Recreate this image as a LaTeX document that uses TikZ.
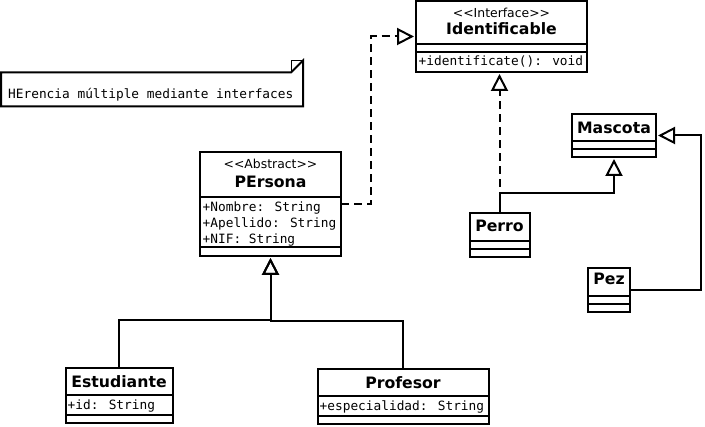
\documentclass[tikz,border=0pt]{standalone}
\usepackage{fontspec}
\setmainfont{DejaVu Sans}
\newfontfamily\monof{DejaVu Sans Mono}
\usetikzlibrary{arrows.meta}
\begin{document}
\begin{tikzpicture}[x=1pt,y=-1pt,
  cls/.style={draw,line width=2pt,inner sep=0pt,outer sep=0pt,anchor=north west},
  sep/.style={line width=2pt},
  cname/.style={font=\fontsize{15.7}{18}\selectfont\bfseries,anchor=base,inner sep=0pt},
  stereo/.style={font=\fontsize{12.4}{14}\selectfont,anchor=base,inner sep=0pt},
  attr/.style={font=\monof\fontsize{12.8}{15}\selectfont,anchor=base west,inner sep=0pt},
  gen/.style={line width=2pt,-{Triangle[open,length=17pt,width=17pt,line width=2pt]},shorten >=2pt},
  real/.style={gen,dash pattern=on 8pt off 5pt},
  notebox/.style={inner sep=0pt,outer sep=0pt,anchor=north west}]
\useasboundingbox (0,0) rectangle (705,427);
\fill[white] (0,0) rectangle (705,427);

% Identificable
\node[cls,minimum width=171pt,minimum height=71pt] (ident) at (416,1) {};
\draw[sep] (ident.west |- 0,44) -- (ident.east |- 0,44);
\draw[sep] (ident.west |- 0,52) -- (ident.east |- 0,52);
\node[stereo] (identst) at (501.5,17.3) {<{}<Interface>{}>};
\node[cname] (identnm) at (501.5,35) {Identificable};
\node[attr] (identm) at (418.5,66) {+identificate(): void};

% Persona
\node[cls,minimum width=141pt,minimum height=104pt] (persona) at (200,152) {};
\draw[sep] (persona.west |- 0,197) -- (persona.east |- 0,197);
\draw[sep] (persona.west |- 0,247) -- (persona.east |- 0,247);
\node[stereo] (persst) at (270.5,168.3) {<{}<Abstract>{}>};
\node[cname] (persnm) at (270.5,187.3) {PErsona};
\node[attr] (pa1) at (202.5,211.7) {+Nombre: String};
\node[attr] (pa2) at (202.5,228) {+Apellido: String};
\node[attr] (pa3) at (202.5,243.5) {+NIF: String};

% Mascota
\node[cls,minimum width=84pt,minimum height=43pt] (mascota) at (572,114) {};
\draw[sep] (mascota.west |- 0,141.5) -- (mascota.east |- 0,141.5);
\draw[sep] (mascota.west |- 0,149) -- (mascota.east |- 0,149);
\node[cname] (mascnm) at (614,133.3) {Mascota};

% Perro
\node[cls,minimum width=60pt,minimum height=44pt] (perro) at (469.5,213) {};
\draw[sep] (perro.west |- 0,241.5) -- (perro.east |- 0,241.5);
\draw[sep] (perro.west |- 0,249) -- (perro.east |- 0,249);
\node[cname] (perronm) at (499.5,231.7) {Perro};

% Pez
\node[cls,minimum width=42pt,minimum height=44pt] (pez) at (588,268) {};
\draw[sep] (pez.west |- 0,296.5) -- (pez.east |- 0,296.5);
\draw[sep] (pez.west |- 0,304) -- (pez.east |- 0,304);
\node[cname] (peznm) at (609,285) {Pez};

% Estudiante
\node[cls,minimum width=107pt,minimum height=55pt] (est) at (65.5,368.5) {};
\draw[sep] (est.west |- 0,395.5) -- (est.east |- 0,395.5);
\draw[sep] (est.west |- 0,415.5) -- (est.east |- 0,415.5);
\node[cname] (estnm) at (119,387.3) {Estudiante};
\node[attr] (esta) at (67.5,410) {+id: String};

% Profesor
\node[cls,minimum width=171pt,minimum height=55pt] (prof) at (317.5,369) {};
\draw[sep] (prof.west |- 0,396.5) -- (prof.east |- 0,396.5);
\draw[sep] (prof.west |- 0,416) -- (prof.east |- 0,416);
\node[cname] (profnm) at (403,388.3) {Profesor};
\node[attr] (profa) at (319.5,410.7) {+especialidad: String};

% Note
\node[notebox,minimum width=302pt,minimum height=34pt] (note) at (1,72.5) {};
\draw[line width=2pt,line join=miter] (note.north west) -- ([xshift=-12pt]note.north east) -- ([yshift=12pt]note.north east) -- (note.south east) -- (note.south west) -- cycle;
\draw[line width=1pt] ([xshift=-12pt]note.north east) -- ([xshift=-12pt,yshift=12pt]note.north east) -- ([yshift=12pt]note.north east);
\node[attr] (notetxt) at (8,98.3) {HErencia múltiple mediante interfaces};

% Connectors
\draw[real] (persona.east) -- ++(30,0) |- (ident.west);
\draw[real] (perro.north) -- (perro.north |- ident.south);
\draw[gen] (perro.north) -- ++(0,-20) -| (mascota.south);
\draw[gen] (pez.east) -- ++(71,0) |- (mascota.east);
\draw[gen] (est.north) -- ++(0,-48.5) -| (persona.south);
\draw[gen] (prof.north) -- ++(0,-48) -| (persona.south);
\end{tikzpicture}
\end{document}
